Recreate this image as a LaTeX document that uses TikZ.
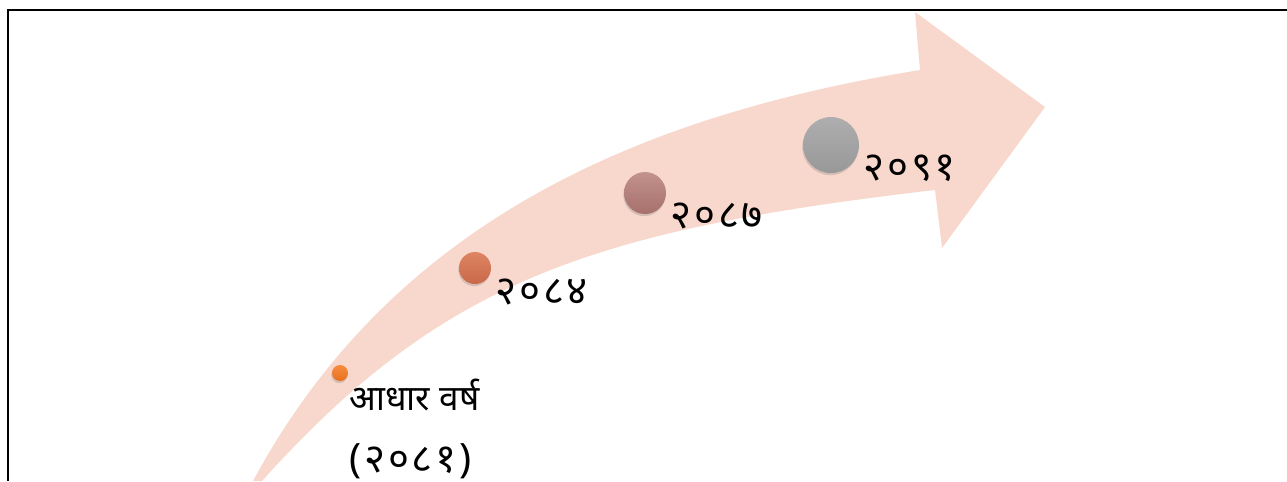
\documentclass[tikz,border=0pt]{standalone}
\usepackage{fontspec}
\newfontfamily\devfont[Script=Devanagari]{Noto Sans}
\newfontfamily\devnum[Script=Devanagari, LetterSpace=7]{Noto Sans}
\usepackage{xcolor}
\usetikzlibrary{positioning, shadows}

\definecolor{trendpink}{HTML}{F8D8CD}
\definecolor{baseTop}{HTML}{F88B3E}
\definecolor{baseBot}{HTML}{E8701F}
\definecolor{midTop}{HTML}{DE8563}
\definecolor{midBot}{HTML}{C96848}
\definecolor{lateTop}{HTML}{C2928D}
\definecolor{lateBot}{HTML}{A7706B}
\definecolor{goalTop}{HTML}{AEAEAE}
\definecolor{goalBot}{HTML}{989898}

\begin{document}
\begin{tikzpicture}[x=0.02cm, y=-0.02cm,
    dot/.style={circle, draw=none, inner sep=0pt,
                drop shadow={opacity=0.3, shadow xshift=-0.4pt,
                             shadow yshift=-1.2pt}},
    yearlbl/.style={font=\devnum\fontsize{23}{26}\selectfont,
                    inner sep=0pt, anchor=west},
    frame/.style={line width=1.1pt, black},
]
\useasboundingbox (0,0) rectangle (1287,481);

% --- Frame ---
\draw[frame] (1287,10) -- (8,10) -- (8,481);

% --- Curved arrow ---
\fill[trendpink] (253,481) .. controls (393,221) and (640,115.5) .. (920,70)
    -- (915,12) -- (1045,107) -- (942,248) -- (935,190)
    .. controls (591,230) and (442,281) .. (262,481) -- cycle;

% --- Milestones ---
\node[dot, minimum size=0.32cm, top color=baseTop, bottom color=baseBot]
    (base) at (340,373) {};
\node[dot, minimum size=0.64cm, top color=midTop, bottom color=midBot]
    (y2084) at (475,268) {};
\node[dot, minimum size=0.84cm, top color=lateTop, bottom color=lateBot]
    (y2087) at (645,193) {};
\node[dot, minimum size=1.12cm, top color=goalTop, bottom color=goalBot]
    (y2091) at (831,145) {};

% --- Labels ---
\node[yearlbl, font=\devfont\fontsize{20}{24}\selectfont,
      anchor=north west, align=left] (basetxt) at (349,379)
    {आधार वर्ष\\[11pt]{\devnum\fontsize{23}{26}\selectfont(२०८१)}};
\node[yearlbl] (y2084txt) at (495,292) {२०८४};
\node[yearlbl] (y2087txt) at (670,216) {२०८७};
\node[yearlbl] (y2091txt) at (863,168) {२०९१};
\end{tikzpicture}
\end{document}
